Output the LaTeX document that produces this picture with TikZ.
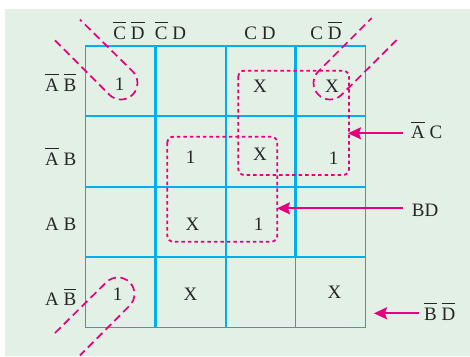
\documentclass[tikz,border=0pt]{standalone}
\usepackage{fontspec}
\setmainfont{Liberation Serif}
\usetikzlibrary{arrows.meta}
\definecolor{bgc}{RGB}{226,240,230}
\definecolor{gridc}{RGB}{0,174,239}
\definecolor{mag}{RGB}{230,0,126}
\newcommand\ovb[1]{\setbox0\hbox{#1}\rlap{\rule[\dimexpr\ht0+3.2pt\relax]{\wd0}{0.9pt}}\box0\relax}
\begin{document}
\begin{tikzpicture}[x=1pt,y=-1pt,
  txt/.style={font=\fontsize{19}{22}\selectfont, inner sep=0pt, anchor=base, text=black!85},
  thickgrid/.style={draw=gridc, line width=2.3pt},
  thingrid/.style={draw=gridc, line width=1.3pt},
  dotbox/.style={draw=mag, line width=1.8pt, dash pattern=on 3.5pt off 3pt, rounded corners=6pt},
  dashloop/.style={draw=mag, line width=1.7pt, dash pattern=on 8pt off 4.5pt},
  pointer/.style={draw=mag, line width=2pt, -{Stealth[length=13pt,width=12pt,inset=2pt]}}]
\useasboundingbox (0,0) rectangle (470,356);
\fill[bgc] (5,9) rectangle (470,356);
% grid
\draw[thickgrid] (155.5,46) -- (155.5,327.5);
\draw[thickgrid] (226,46) -- (226,327.5);
\draw[thickgrid] (295.5,46) -- (295.5,257.3);
\draw[thingrid] (295.5,257.3) -- (295.5,327.5);
\draw[thickgrid] (85.5,116) -- (365.7,116);
\draw[thickgrid] (85.5,187.3) -- (365.7,187.3);
\draw[thickgrid] (85.5,257.3) -- (365.7,257.3);
\draw[thingrid] (85.5,46) rectangle (365.7,327.5);
% column headers
\node[txt] (h1) at (129,39) {\ovb{C} \ovb{D}};
\node[txt] (h2) at (170.5,39) {\ovb{C} D};
\node[txt] (h3) at (260,39) {C D};
\node[txt] (h4) at (326,39) {C \ovb{D}};
% row labels
\node[txt, anchor=base east] (r1) at (76.5,91) {\ovb{A} \ovb{B}};
\node[txt, anchor=base east] (r2) at (76.5,165) {\ovb{A} B};
\node[txt, anchor=base east] (r3) at (76.5,230.5) {A B};
\node[txt, anchor=base east] (r4) at (76.5,305.5) {A \ovb{B}};
% entries
\node[txt] (e11) at (119.5,90.5) {1};
\node[txt] (e13) at (260,92.5) {X};
\node[txt] (e14) at (332,92.5) {X};
\node[txt] (e22) at (190.5,163.5) {1};
\node[txt] (e23) at (260,160) {X};
\node[txt] (e24) at (333.5,164) {1};
\node[txt] (e32) at (192.5,230) {X};
\node[txt] (e33) at (258.5,230) {1};
\node[txt] (e41) at (117.5,300.5) {1};
\node[txt] (e42) at (190.5,300) {X};
\node[txt] (e44) at (334.5,298) {X};
% dotted groups
\draw[dotbox] (238.3,70.7) rectangle (349,175);
\draw[dotbox] (167.3,136.7) rectangle (277.3,241.7);
% dashed corner loops
\draw[dashloop] (55,40.4) -- (109.3,94.7) arc[start angle=135, end angle=-45, radius=16.5] -- (80,19.6);
\draw[dashloop] (396.7,40) -- (341.7,94.7) arc[start angle=45, end angle=225, radius=16.5] -- (371.7,18);
\draw[dashloop] (55,333) -- (106.3,282.3) arc[start angle=-135, end angle=45, radius=16.5] -- (80,355.4);
% right labels and pointers
\node[txt, anchor=base west] (lAC) at (411,138.5) {\ovb{A} C};
\node[txt, anchor=base west] (lBD) at (411.7,216.5) {BD};
\node[txt, anchor=base west] (lBnDn) at (424,320) {\ovb{B} \ovb{D}};
\coordinate (tAC) at (403,133.3);
\coordinate (pAC) at (348,133.3);
\coordinate (tBD) at (403,208.3);
\coordinate (pBD) at (277,208.3);
\coordinate (tBnDn) at (419,313.3);
\coordinate (pBnDn) at (374,313.3);
\draw[pointer] (tAC) -- (pAC);
\draw[pointer] (tBD) -- (pBD);
\draw[pointer] (tBnDn) -- (pBnDn);
\end{tikzpicture}
\end{document}
